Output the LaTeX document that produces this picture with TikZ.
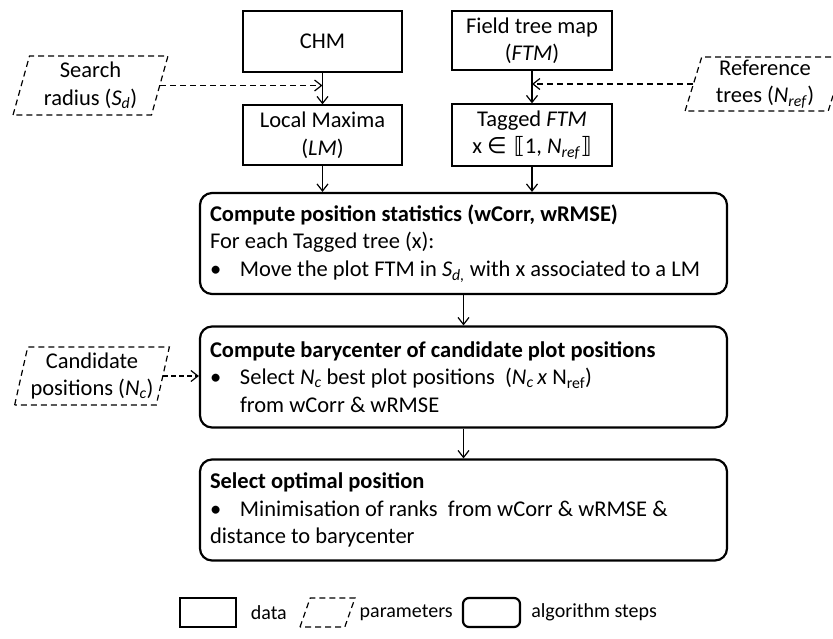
\documentclass[tikz,border=0pt]{standalone}
\usepackage{fontspec}
\setmainfont{Carlito}
\newfontfamily\symb{DejaVu Sans}
\usetikzlibrary{arrows.meta, positioning, shapes.geometric}

\newcommand{\Nsub}[1]{\textit{N}\textsubscript{\textit{#1}}}

\begin{document}
\begin{tikzpicture}[
    x=1pt, y=-1pt,
    every node/.style={font=\fontsize{22.5}{27.5}\selectfont, inner sep=2mm},
    donnee/.style={rectangle, draw, line width=1.3pt, align=center},
    param/.style={trapezium, trapezium left angle=75, trapezium right angle=105,
        trapezium stretches=true, draw, line width=1.2pt,
        dash pattern=on 6pt off 4pt, align=center, inner sep=0pt},
    etape/.style={rectangle, rounded corners=12pt, draw, line width=2.2pt,
        minimum width=527pt, minimum height=101pt, text width=507pt,
        inner xsep=10pt, align=flush left},
    fleche/.style={-{Straight Barb[length=7pt,width=11pt]}, line width=1.2pt},
    legende/.style={anchor=west, inner sep=0pt, font=\fontsize{20}{24}\selectfont}
    ]
\useasboundingbox (0,0) rectangle (833,638);
\clip (0,0) rectangle (833,638);

% data
\node[donnee, minimum width=159pt, minimum height=61pt] (chm) at (322.5,41.5) {CHM};
\node[donnee, minimum width=159pt, minimum height=60pt] (lm) at (322.5,135)
    {Local Maxima\\(\textit{LM})};
\node[donnee, minimum width=160pt, minimum height=59pt] (ftm) at (532,40.5)
    {Field tree map\\(\textit{FTM})};
\node[donnee, minimum width=160pt, minimum height=62pt] (tftm) at (532,135)
    {Tagged \textit{FTM}\\x {\symb ∈ ⟦}1, \Nsub{ref}{\symb ⟧}};

% parameters
\node[param, minimum width=155pt, minimum height=59pt] (sd) at (90.5,85.5)
    {Search\\radius (\textit{S}\textsubscript{\textit{d}})};
\node[param, minimum width=160pt, minimum height=54pt] (nref) at (765,84)
    {Reference\\trees (\Nsub{ref})};
\node[param, minimum width=155pt, minimum height=58pt] (nc) at (92,376)
    {Candidate\\positions (\Nsub{c})};

% algorithm steps
\node[etape] (step1) at (463.5,243.5) {
    \textbf{Compute position statistics (wCorr, wRMSE)}\\
    For each Tagged tree (x):\\
    \makebox[30pt][l]{\textbullet}Move the plot FTM in \textit{S}\textsubscript{\textit{d,}} with x associated to a LM};
\node[etape] (step2) at (463.5,377) {
    \textbf{Compute barycenter of candidate plot positions}\\
    \makebox[30pt][l]{\textbullet}Select \Nsub{c} best plot positions\ \ (\Nsub{c}\,\textit{x} N\textsubscript{ref})\\
    \hspace*{30pt}from wCorr \& wRMSE};
\node[etape] (step3) at (463.5,510) {
    \textbf{Select optimal position}\\
    \makebox[30pt][l]{\textbullet}Minimisation of ranks\ \ from wCorr \& wRMSE \&\\
    distance to barycenter};

% connectors
\draw[fleche] (chm) -- (lm);
\draw[fleche] (ftm) -- (tftm);
\draw[fleche] (lm) -- (lm |- step1.north);
\draw[fleche] (tftm) -- (tftm |- step1.north);
\draw[fleche] (step1) -- (step2);
\draw[fleche] (step2) -- (step3);
\draw[fleche, dash pattern=on 6pt off 4pt] (sd.east) -- (sd.east -| chm.south);
\draw[fleche, dash pattern=on 6pt off 4pt] (nref.west) -- (nref.west -| ftm.south);
\draw[fleche, dash pattern=on 5pt off 3pt] (nc.east) -- (nc.east -| step2.west);

% legend
\node[donnee, minimum width=56pt, minimum height=29pt, inner sep=0pt] (legdata) at (208,612.5) {};
\node[legende, right=14pt of legdata] (txtdata) {data};
\node[param, minimum width=55pt, minimum height=29pt] (legparam) at (327.5,612.5) {\phantom{x}};
\node[legende, right=9pt of legparam] (txtparam) {parameters};
\node[etape, minimum width=57pt, minimum height=29pt, text width={}, inner sep=0pt,
    rounded corners=6pt] (legalgo) at (491.5,612.5) {};
\node[legende, right=10pt of legalgo] (txtalgo) {algorithm steps};
\end{tikzpicture}
\end{document}
